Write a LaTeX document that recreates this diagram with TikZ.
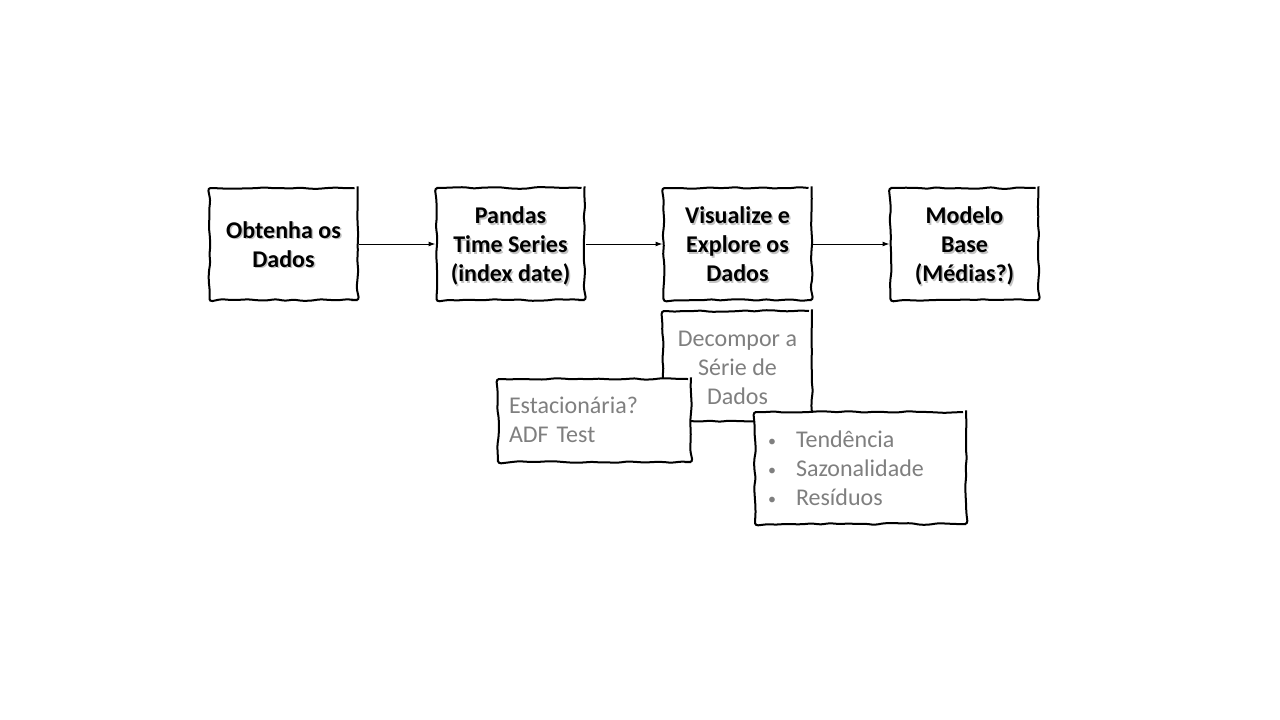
\documentclass[tikz,border=0pt]{standalone}
\usepackage{fontspec}
\setmainfont{Carlito}
\usetikzlibrary{decorations.pathmorphing,arrows.meta}
\definecolor{txtgray}{RGB}{127,127,127}
\definecolor{shadowgray}{RGB}{195,195,195}
\newcommand{\bul}{\makebox[29pt][l]{\hspace*{1pt}\raisebox{1pt}{\fontsize{16}{16}\selectfont •}}}
\tikzset{
  sketch/.style={draw=black, line width=2pt, fill=white, decorate,
    decoration={random steps, segment length=9pt, amplitude=0.9pt}, rounded corners=3pt},
  mainbox/.style={sketch, minimum width=148pt, minimum height=112pt, inner sep=0pt},
  maintext/.style={font=\fontsize{24}{29}\selectfont\bfseries, align=center, text=black, inner sep=0pt},
  shadowtext/.style={font=\fontsize{24}{29}\selectfont\bfseries, align=center, text=shadowgray, inner sep=0pt},
  graytext/.style={font=\fontsize{24}{29}\selectfont, text=txtgray},
  flow/.style={line width=1pt, -{Latex[length=7pt,width=5pt]}}
}
\pgfmathsetseed{7}
\begin{document}
\begin{tikzpicture}[x=1pt,y=-1pt]
\useasboundingbox (0,0) rectangle (1280,720);
\fill[white] (0,0) rectangle (1280,720);
% main boxes
\node[mainbox] (b1) at (283.5,244) {};
\node[mainbox] (b2) at (510.5,244) {};
\node[mainbox] (b3) at (737.5,244) {};
\node[mainbox] (b4) at (964.5,244) {};
% text with shadow
\node[shadowtext] (s1) at (285,248.5) {\strut Obtenha os\\Dados\strut};
\node[maintext] (t1) at (283.5,247) {\strut Obtenha os\\Dados\strut};
\node[shadowtext] (s2) at (512,248.5) {\strut Pandas\\Time Series\\(index date)\strut};
\node[maintext] (t2) at (510.5,247) {\strut Pandas\\Time Series\\(index date)\strut};
\node[shadowtext] (s3) at (739,248.5) {\strut Visualize e\\Explore os\\Dados\strut};
\node[maintext] (t3) at (737.5,247) {\strut Visualize e\\Explore os\\Dados\strut};
\node[shadowtext] (s4) at (966,248.5) {\strut Modelo\\Base\\(Médias?)\strut};
\node[maintext] (t4) at (964.5,247) {\strut Modelo\\Base\\(Médias?)\strut};
% arrows
\draw[flow] (b1.east) -- (b2.west);
\draw[flow] (b2.east) -- (b3.west);
\draw[flow] (b3.east) -- (b4.west);
% secondary boxes
\node[sketch, graytext, minimum width=149pt, minimum height=110pt, inner sep=0pt, align=center] (d) at (737.5,366) {\rule{0pt}{28.3pt}Decompor a\\Série de\\Dados\strut};
\node[sketch, graytext, minimum width=193pt, minimum height=83pt, inner sep=0pt, text width=171pt, align=left] (e) at (594.5,420.5) {\rule{0pt}{24.3pt}Estacionária?\\ADF Test\strut};
\node[sketch, graytext, minimum width=211pt, minimum height=112pt, inner sep=0pt, text width=187pt, align=left] (r) at (860.5,468) {\rule{0pt}{26.3pt}\bul Tendência\\\bul Sazonalidade\\\bul Resíduos\strut};
\end{tikzpicture}
\end{document}
